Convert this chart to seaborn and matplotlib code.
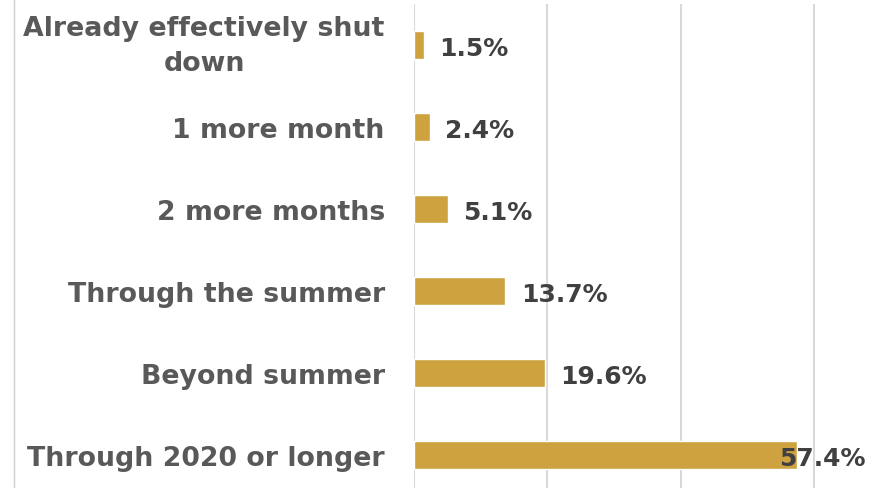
import matplotlib
matplotlib.use("Agg")
import matplotlib.pyplot as plt
import seaborn as sns
import pandas as pd
from matplotlib.lines import Line2D

categories = ["Already effectively shut\ndown", "1 more month", "2 more months",
              "Through the summer", "Beyond summer", "Through 2020 or longer"]
values = [1.5, 2.4, 5.1, 13.7, 19.6, 57.4]
value_labels = ["1.5%", "2.4%", "5.1%", "13.7%", "19.6%", "57.4%"]

df = pd.DataFrame({"category": categories, "value": values})

sns.set_style("white")
plt.rcParams["font.family"] = ["DejaVu Sans"]

fig = plt.figure(figsize=(8.83, 4.89), dpi=100)
ax = fig.add_axes([414 / 883, 0, 469 / 883, 484 / 489])

sns.barplot(data=df, y="category", x="value", orient="h", color="#CDA23F",
            saturation=1, width=0.34, ax=ax)

ax.set_xlim(0, 70.3)
ax.set_ylim(5.4, -0.5)
ax.set_xticks([0, 20, 40, 60])
ax.xaxis.grid(True, color="#D9D9D9", linewidth=1.5)
ax.set_axisbelow(True)
for s in ax.spines.values():
    s.set_visible(False)
ax.tick_params(axis="x", length=0, labelbottom=False)
ax.tick_params(axis="y", length=0, pad=21)
ax.set_xlabel("")
ax.set_ylabel("")
for lbl in ax.get_yticklabels():
    lbl.set_fontsize(19.3)
    lbl.set_fontweight("bold")
    lbl.set_color("#595959")
    lbl.set_multialignment("center")
    lbl.set_linespacing(1.45)
    if "\n" in lbl.get_text():
        lbl.set_verticalalignment("center")

for i, (v, t) in enumerate(zip(values, value_labels)):
    if v > 50:
        # label would run off the right edge, so pull it back inside
        ax.text(67.7, i + 0.04, t, ha="right", va="center", fontsize=18,
                fontweight="bold", color="#404040", clip_on=False)
    else:
        ax.annotate(t, (v, i + 0.04), xytext=(11, 0), textcoords="offset points",
                    ha="left", va="center", fontsize=18, fontweight="bold",
                    color="#404040")

fig.add_artist(Line2D([14 / 883, 14 / 883], [0, 1], color="#D0D0D0", linewidth=1))

fig.savefig("out.png", dpi=100, facecolor="white")
